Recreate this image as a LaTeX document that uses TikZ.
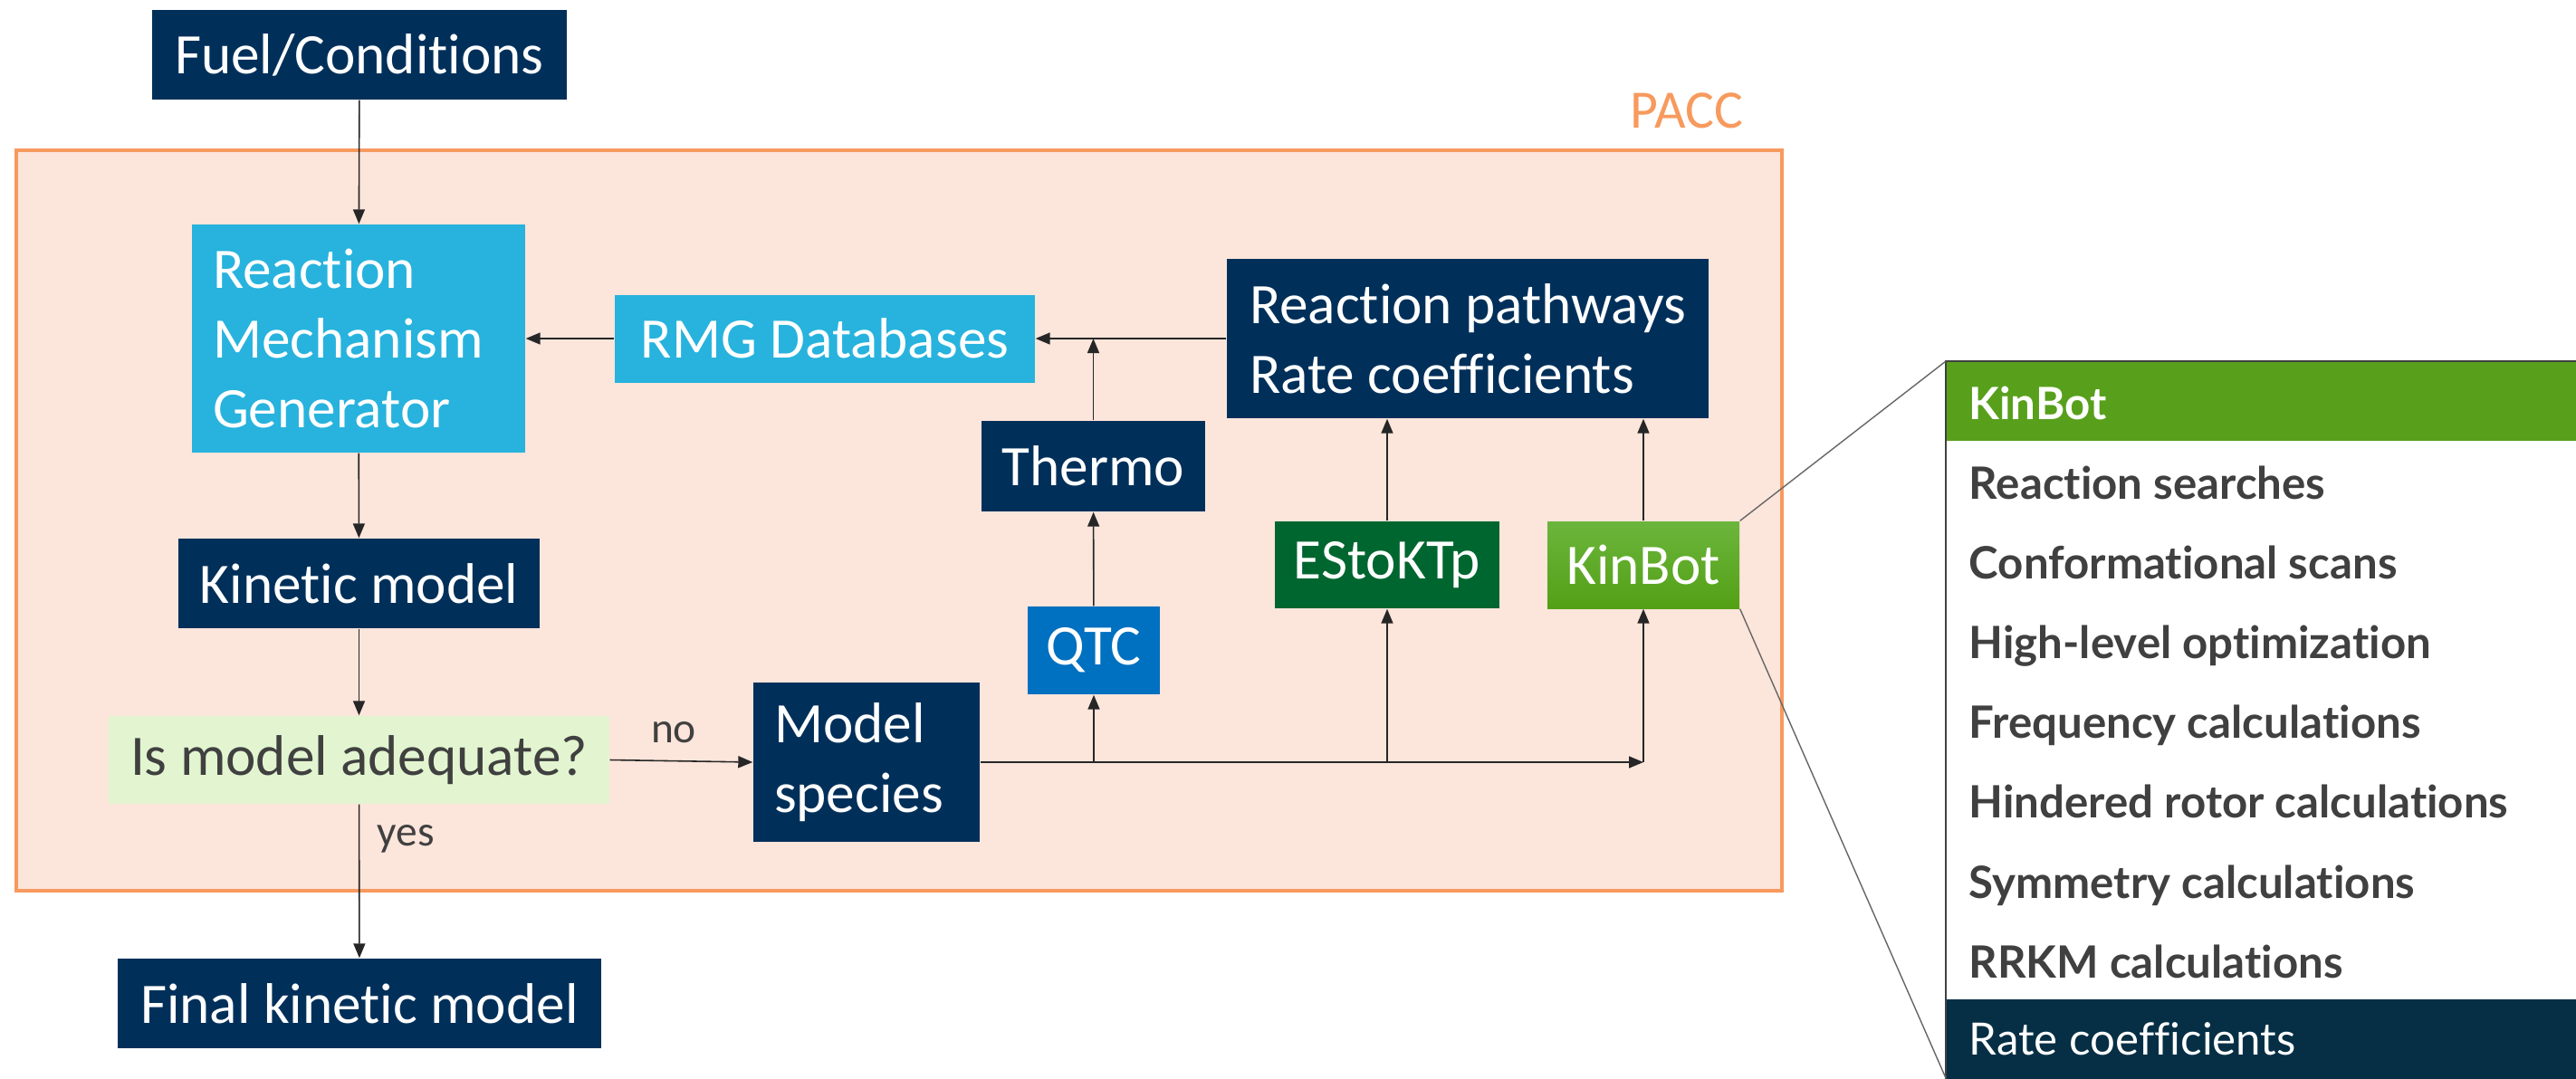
\documentclass[tikz,border=0pt]{standalone}
\usepackage{fontspec}
\setmainfont{Carlito}[Ligatures=NoCommon]
\newfontfamily\latofont{Lato}[Ligatures=NoCommon]
\usetikzlibrary{arrows.meta, positioning, calc}
\definecolor{navy}{HTML}{00305A}
\definecolor{rmgcyan}{HTML}{27B3DD}
\definecolor{qtcblue}{HTML}{0070C0}
\definecolor{esgreen}{HTML}{00662F}
\definecolor{kbtop}{HTML}{6CB53C}
\definecolor{kbbot}{HTML}{53A016}
\definecolor{kbhead}{HTML}{58A01C}
\definecolor{paleg}{HTML}{E2F5D0}
\definecolor{paccfill}{HTML}{FCE5DB}
\definecolor{paccline}{HTML}{F79A5E}
\definecolor{dkgray}{HTML}{404040}
\definecolor{linegray}{HTML}{262626}
\definecolor{footnavy}{HTML}{062F45}

\tikzset{
  box/.style={fill=navy, text=white, inner sep=0pt, font=\fontsize{18}{22}\selectfont},
  leftbox/.style={box, align=left, inner xsep=0.23cm, inner ysep=0pt},
  arr/.style={linegray, line width=0.45pt, -{Triangle[length=1.6mm, width=1.3mm]}},
  tag/.style={text=dkgray, font=\fontsize{13.5}{16}\selectfont},
  row/.style={anchor=base west, inner sep=0pt, text=dkgray, font=\latofont\bfseries\fontsize{14}{16}\selectfont},
}

\begin{document}
\begin{tikzpicture}
\useasboundingbox (0,0) rectangle (28.45,-11.91);

% PACC region
\fill[paccfill] (0.18,-1.66) rectangle (19.68,-9.84);
\draw[paccline, line width=1.1pt] (0.18,-1.66) rectangle (19.68,-9.84);
\node[text=paccline, font=\fontsize{17}{20}\selectfont] (pacc) at (18.63,-1.22) {PACC};

% Main column
\node[box, minimum width=4.58cm, minimum height=0.99cm] (fuel) at (3.97,-0.605) {Fuel/Conditions};
\node[leftbox, fill=rmgcyan, text width=3.22cm, minimum height=2.52cm] (rmg) at (3.96,-3.74) {Reaction\\Mechanism\\Generator};
\node[box, minimum width=3.99cm, minimum height=0.99cm] (kinetic) at (3.965,-6.445) {Kinetic model};
\node[box, fill=paleg, text=dkgray, minimum width=5.53cm, minimum height=0.97cm] (adequate) at (3.965,-8.395) {Is model adequate?};
\node[box, minimum width=5.34cm, minimum height=0.99cm] (final) at (3.97,-11.085) {Final kinetic model};

% Tools
\node[box, fill=rmgcyan, minimum width=4.64cm, minimum height=0.97cm] (rmgdb) at (9.11,-3.74) {RMG Databases};
\node[box, align=left, minimum width=5.32cm, minimum height=1.76cm] (paths) at (16.21,-3.74) {Reaction pathways\\Rate coefficients};
\node[box, minimum width=2.47cm, minimum height=1.0cm] (thermo) at (12.075,-5.15) {Thermo};
\node[box, fill=qtcblue, minimum width=1.46cm, minimum height=0.97cm] (qtc) at (12.08,-7.185) {QTC};
\node[box, fill=esgreen, minimum width=2.48cm, minimum height=0.96cm] (estoktp) at (15.32,-6.24) {EStoKTp};
\node[box, top color=kbtop, bottom color=kbbot, minimum width=2.12cm, minimum height=0.96cm] (kinbot) at (18.15,-6.24) {KinBot};
\node[leftbox, text width=2.04cm, minimum height=1.76cm] (species) at (9.57,-8.42) {Model\\species};

% Junctions
\coordinate (jthermo) at (thermo.north |- rmgdb.east);
\coordinate (jqtc) at (qtc.south |- species.east);
\coordinate (jes) at (estoktp.south |- species.east);
\coordinate (jkb) at (kinbot.south |- species.east);

% Connectors
\draw[arr] (fuel) -- (rmg);
\draw[arr] (rmg) -- (kinetic);
\draw[arr] (kinetic) -- (adequate);
\draw[arr] (adequate) -- (final);
\draw[arr] (adequate.east) -- (species.west);
\draw[arr] (rmgdb) -- (rmg);
\draw[arr] (paths) -- (rmgdb);
\draw[arr] (thermo) -- (jthermo);
\draw[arr] (qtc) -- (thermo);
\draw[arr] (estoktp) -- (estoktp |- paths.south);
\draw[arr] (kinbot) -- (kinbot |- paths.south);
\draw[arr] (species.east) -- (jkb);
\draw[arr] (jqtc) -- (qtc);
\draw[arr] (jes) -- (estoktp);
\draw[arr] (jkb) -- (kinbot);
\node[tag] (no) at (7.44,-8.09) {no};
\node[tag] (yes) at (4.48,-9.27) {yes};

% KinBot detail panel
\coordinate (ptop) at (21.49,-3.99);
\coordinate (pbot) at (21.49,-11.91);
\fill[white] (21.49,-3.99) rectangle (28.6,-11.95);
\fill[kbhead] (21.49,-3.99) rectangle (28.6,-4.87);
\fill[footnavy] (21.49,-11.04) rectangle (28.6,-11.95);
\draw[dkgray, line width=0.7pt] (21.49,-3.99) rectangle (28.6,-11.95);
\draw[dkgray!80, line width=0.4pt] (kinbot.north east) -- (ptop);
\draw[dkgray!80, line width=0.4pt] (kinbot.south east) -- (pbot);

\node[row, text=white] (head) at (21.74,-4.63) {KinBot};
\foreach \i/\t in {0/Reaction searches, 1/Conformational scans, 2/High-level optimization,
  3/Frequency calculations, 4/Hindered rotor calculations, 5/Symmetry calculations, 6/RRKM calculations} {
  \node[row] (r\i) at (21.74,-5.51-0.882*\i) {\t};
}
\node[row, text=white, font=\latofont\fontsize{14}{16}\selectfont] (foot) at (21.74,-11.65) {Rate coefficients};

\end{tikzpicture}
\end{document}
